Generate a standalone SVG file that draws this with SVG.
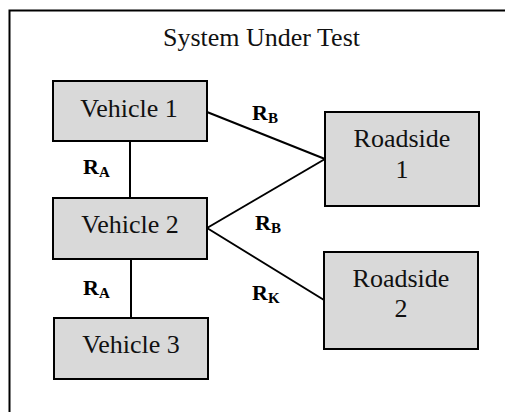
<svg xmlns="http://www.w3.org/2000/svg" width="505" height="412" viewBox="0 0 505 412">
<style>
.box{fill:#d9d9d9;stroke:#000;stroke-width:2}
.t{font-family:"Liberation Serif",serif;font-size:26px;fill:#111;text-anchor:middle}
.lbl{font-family:"Liberation Serif",serif;font-size:22px;font-weight:bold;fill:#000}
.sub{font-size:15px}
.conn line{stroke:#000;stroke-width:2}
</style>
<rect x="0" y="0" width="505" height="412" fill="#fff"/>
<g id="frame">
<rect x="9.5" y="10.5" width="520" height="430" fill="none" stroke="#000" stroke-width="2"/>
<text class="t" x="261.5" y="46">System Under Test</text>
</g>
<g class="conn" id="connectors">
<line x1="130" y1="141" x2="130" y2="198"/>
<line x1="131" y1="259" x2="131" y2="318"/>
<line x1="207" y1="112" x2="325" y2="159"/>
<line x1="207" y1="228" x2="325" y2="159"/>
<line x1="207" y1="228" x2="324" y2="300"/>
<text class="lbl" x="83" y="174">R<tspan class="sub" dy="3">A</tspan></text>
<text class="lbl" x="83" y="295">R<tspan class="sub" dy="3">A</tspan></text>
<text class="lbl" x="252" y="120">R<tspan class="sub" dy="3">B</tspan></text>
<text class="lbl" x="255" y="230">R<tspan class="sub" dy="3">B</tspan></text>
<text class="lbl" x="252" y="300">R<tspan class="sub" dy="3">K</tspan></text>
</g>
<g id="vehicle1">
<rect class="box" x="53" y="81" width="154" height="60"/>
<text class="t" x="129" y="117">Vehicle 1</text>
</g>
<g id="vehicle2">
<rect class="box" x="53" y="198" width="154" height="61"/>
<text class="t" x="130" y="233">Vehicle 2</text>
</g>
<g id="vehicle3">
<rect class="box" x="54" y="318" width="154" height="61"/>
<text class="t" x="131" y="353">Vehicle 3</text>
</g>
<g id="roadside1">
<rect class="box" x="325" y="112" width="154" height="94"/>
<text class="t" x="402" y="147">Roadside</text>
<text class="t" x="402" y="178">1</text>
</g>
<g id="roadside2">
<rect class="box" x="324" y="252" width="154" height="97"/>
<text class="t" x="401" y="287">Roadside</text>
<text class="t" x="401" y="317">2</text>
</g>
</svg>
